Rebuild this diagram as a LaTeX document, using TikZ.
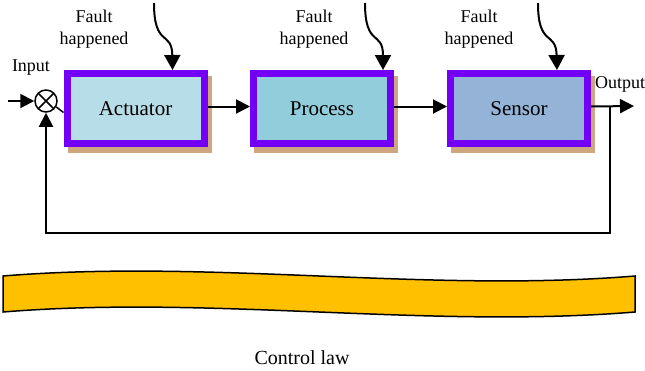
\documentclass[tikz,border=0pt]{standalone}
\usepackage{fontspec}
\setmainfont{Liberation Serif}
\usetikzlibrary{arrows.meta,shadows}
\definecolor{boxpurple}{RGB}{115,0,245}
\definecolor{shadowtan}{RGB}{208,166,128}
\definecolor{actfill}{RGB}{182,221,232}
\definecolor{procfill}{RGB}{146,205,220}
\definecolor{sensfill}{RGB}{149,179,215}
\definecolor{lawyellow}{RGB}{255,192,0}
\tikzset{
  block/.style={draw=boxpurple,line width=7pt,minimum width=137pt,minimum height=70pt,
    font=\fontsize{21}{25}\selectfont,
    drop shadow={shadow xshift=4pt,shadow yshift=-6pt,fill=shadowtan,draw=shadowtan,line width=7pt,opacity=1}},
  lbl/.style={font=\fontsize{18}{22}\selectfont,align=center,inner sep=0pt},
  arr/.style={line width=2pt,-{Triangle[length=14pt,width=14pt]}},
  fault/.style={line width=2pt,-{Triangle[length=15pt,width=16pt]}},
  sumnode/.style={draw,line width=1.5pt,circle,minimum size=22pt,inner sep=0pt,
    path picture={\draw[line width=1.5pt] (path picture bounding box.north west) -- (path picture bounding box.south east)
      (path picture bounding box.north east) -- (path picture bounding box.south west);}}
}
\begin{document}
\begin{tikzpicture}[x=1pt,y=-1pt]
\useasboundingbox (0,0) rectangle (645,370);
\node[block,fill=actfill] (act) at (135.5,108.5) {Actuator};
\node[block,fill=procfill] (proc) at (322,108.5) {Process};
\node[block,fill=sensfill] (sens) at (519,108.5) {Sensor};
\node[sumnode] (sum) at (46,101) {};
\node[lbl] (inlbl) at (31,68) {Input};
\node[lbl,anchor=west] (outlbl) at (595,84) {Output};
\node[lbl] (flt1) at (94,29) {Fault\\happened};
\node[lbl] (flt2) at (314,29) {Fault\\happened};
\node[lbl] (flt3) at (479,29) {Fault\\happened};
\node[font=\fontsize{20}{24}\selectfont] (law) at (302,358) {Control law};
\coordinate (in) at (8,101);
\coordinate (out) at (634,106);
\coordinate (tap) at (610,106);
\coordinate (fbl) at (46,233);
\coordinate (fs1) at (154,3);
\coordinate (fs2) at (365,3);
\coordinate (fs3) at (538,3);
\draw[arr] (in) -- (sum);
\draw[line width=1.5pt] (sum.-30) -- ([yshift=-4pt]act.west);
\draw[arr] ([yshift=2pt]act.east) -- ([yshift=2pt]proc.west);
\draw[arr] ([yshift=2pt]proc.east) -- ([yshift=2pt]sens.west);
\draw[arr] ([yshift=2pt]sens.east) -- (out);
\draw[arr] (tap) |- (fbl) -- (sum);
\draw[fault] (fs1) .. controls (154,48) and (172,30) .. ([xshift=37pt]act.north);
\draw[fault] (fs2) .. controls (365,48) and (383,30) .. ([xshift=61pt]proc.north);
\draw[fault] (fs3) .. controls (538,48) and (556,30) .. ([xshift=38pt]sens.north);
\draw[fill=lawyellow,line width=1.5pt] (3,276) .. controls (211,259) and (427,293) .. (635,276)
  -- (635,312) .. controls (427,329) and (211,295) .. (3,312) -- cycle;
\end{tikzpicture}
\end{document}
